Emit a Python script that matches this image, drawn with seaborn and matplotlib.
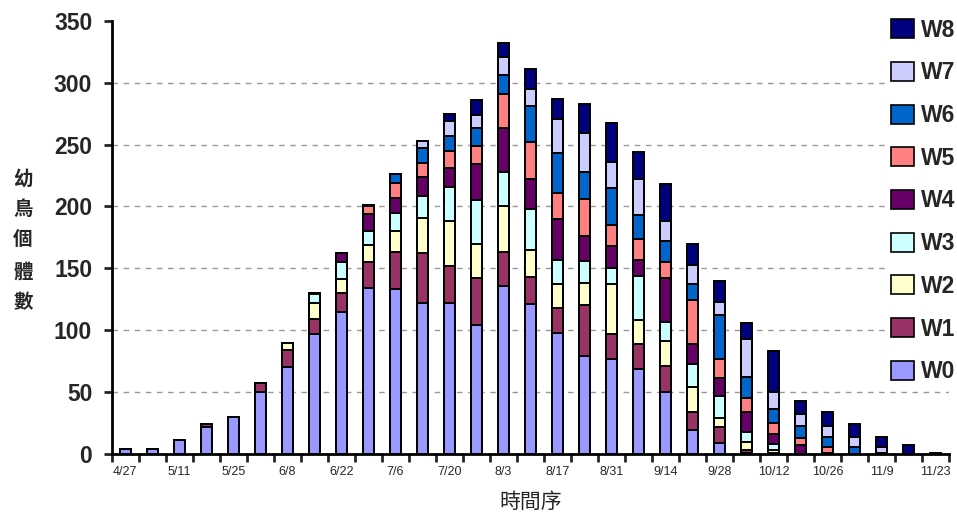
import numpy as np
import pandas as pd
import seaborn as sb
import matplotlib.pyplot as plt
from matplotlib.patches import Patch
from matplotlib.ticker import FixedLocator

dates = ["4/27", "5/4", "5/11", "5/18", "5/25", "6/1", "6/8", "6/15", "6/22", "6/29",
         "7/6", "7/13", "7/20", "7/27", "8/3", "8/10", "8/17", "8/24", "8/31", "9/7",
         "9/14", "9/21", "9/28", "10/5", "10/12", "10/19", "10/26", "11/2", "11/9",
         "11/16", "11/23"]

w0 = [4, 4, 11, 22, 30, 50, 70, 97, 115, 134, 133, 122, 122, 104, 136, 121, 98, 79, 77, 69, 50, 19, 9, 1, 0, 0, 0, 0, 0, 0, 0]
w1 = [0, 0, 0, 2, 0, 7, 14, 12, 15, 21, 30, 40, 30, 38, 27, 22, 20, 41, 20, 20, 21, 15, 13, 2, 1, 0, 0, 0, 0, 0, 0]
w2 = [0, 0, 0, 0, 0, 0, 6, 13, 11, 14, 17, 29, 36, 28, 37, 22, 19, 18, 40, 19, 20, 20, 7, 7, 2, 0, 0, 0, 0, 0, 0]
w3 = [0, 0, 0, 0, 0, 0, 0, 7, 14, 11, 15, 17, 28, 35, 28, 33, 20, 18, 13, 36, 16, 19, 18, 8, 5, 0, 0, 0, 0, 0, 0]
w4 = [0, 0, 0, 0, 0, 0, 0, 1, 7, 14, 12, 16, 15, 29, 35, 24, 33, 20, 18, 13, 35, 16, 14, 16, 8, 7, 1, 0, 0, 0, 0]
w5 = [0, 0, 0, 0, 0, 0, 0, 0, 0, 6, 12, 11, 14, 15, 28, 30, 21, 30, 17, 17, 13, 35, 16, 11, 9, 6, 5, 0, 0, 0, 0]
w6 = [0, 0, 0, 0, 0, 0, 0, 0, 0, 1, 7, 12, 12, 14, 15, 29, 32, 22, 30, 19, 17, 13, 35, 17, 11, 10, 8, 6, 1, 0, 0]
w7 = [0, 0, 0, 0, 0, 0, 0, 0, 0, 0, 0, 6, 12, 11, 15, 14, 28, 31, 21, 29, 16, 16, 11, 31, 14, 9, 9, 8, 5, 0, 0]
w8 = [0, 0, 0, 0, 0, 0, 0, 0, 0, 0, 0, 0, 6, 12, 11, 16, 16, 24, 31, 22, 30, 17, 17, 13, 33, 11, 11, 10, 8, 7, 1]

series = ["W0", "W1", "W2", "W3", "W4", "W5", "W6", "W7", "W8"]
colors = ["#9999FF", "#993366", "#FFFFCC", "#CCFFFF", "#660066",
          "#FF8080", "#0066CC", "#CCCCFF", "#000080"]

df = pd.DataFrame(dict(zip(series, [w0, w1, w2, w3, w4, w5, w6, w7, w8])), index=dates)
cum = df.cumsum(axis=1)

sb.set_style("white")
plt.rcParams['font.family'] = ['Liberation Sans', 'Noto Sans CJK TC', 'DejaVu Sans']

fig = plt.figure(figsize=(9.57, 5.18), dpi=100)
ax = fig.add_axes([0.1167, 0.1236, 0.875, 0.8364])

# stacked bars: draw cumulative totals from top layer down
for k in range(len(series) - 1, -1, -1):
    sb.barplot(x=dates, y=cum[series[k]].values, color=colors[k], saturation=1,
               edgecolor="black", linewidth=1.4, width=0.42, errorbar=None, ax=ax)

ax.set_xlim(-0.5, len(dates) - 0.5)
ax.set_ylim(0, 350)
ax.set_yticks(np.arange(0, 351, 50))
ax.yaxis.grid(True, linestyle=(0, (4, 4)), color="#999999", linewidth=1)
ax.get_ygridlines()[-1].set_visible(False)
ax.set_axisbelow(True)

for s in ["top", "right"]:
    ax.spines[s].set_visible(False)
for s in ["left", "bottom"]:
    ax.spines[s].set_color("black")
    ax.spines[s].set_linewidth(2)

ax.tick_params(axis="y", which="major", length=6, width=2, direction="out",
               labelsize=16.5, left=True, pad=8)
for t in ax.get_yticklabels():
    t.set_fontweight("bold")

ax.set_xticks(range(0, len(dates), 2))
ax.set_xticklabels(dates[::2], fontsize=9)
ax.xaxis.set_minor_locator(FixedLocator(np.arange(-0.5, len(dates), 1)))
ax.tick_params(axis="x", which="major", length=0, pad=9)
ax.tick_params(axis="x", which="minor", length=6, width=2, direction="out", bottom=True)

ax.set_xlabel("時間序", fontsize=15, family=['Noto Sans CJK TC'], labelpad=9)
ax.set_ylabel("")
fig.text(0.024, 0.535, "幼\n鳥\n個\n體\n數", ha="center", va="center", fontsize=14,
         fontweight="bold", family=['Noto Sans CJK TC'], linespacing=1.8)

handles = [Patch(facecolor=colors[k], edgecolor="black", linewidth=1.2, label=series[k])
           for k in range(len(series) - 1, -1, -1)]
leg = fig.legend(handles=handles, loc="upper right", bbox_to_anchor=(1.015, 0.995),
                 frameon=True, facecolor="white", edgecolor="white", framealpha=1,
                 prop={"weight": "bold", "size": 16.5}, labelspacing=0.86,
                 handlelength=1.0, handleheight=0.9, handletextpad=0.3, borderpad=0.2)

fig.savefig("out.png", dpi=100)
